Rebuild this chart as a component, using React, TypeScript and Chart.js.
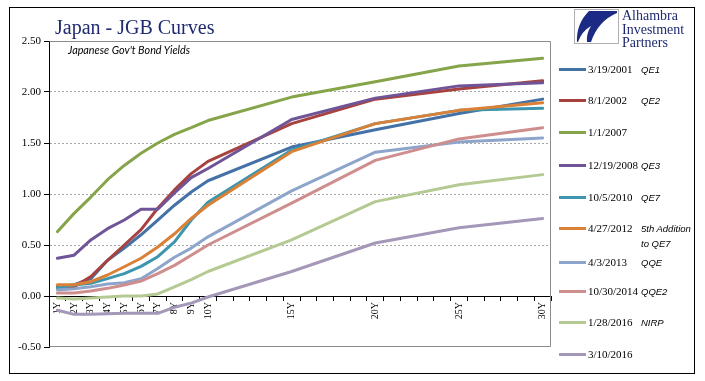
import React, { useEffect, useRef } from 'react';
import { Chart, registerables } from 'chart.js';

Chart.register(...registerables);

// ---- Data ----
const tenors = [1, 2, 3, 4, 5, 6, 7, 8, 9, 10, 15, 20, 25, 30];
const tenorLabels = ['1Y', '2Y', '3Y', '4Y', '5Y', '6Y', '7Y', '8Y', '9Y', '10Y', '15Y', '20Y', '25Y', '30Y'];
const slotCount = 30;

const seriesNames = ['3/19/2001', '8/1/2002', '1/1/2007', '12/19/2008', '10/5/2010', '4/27/2012', '4/3/2013', '10/30/2014', '1/28/2016', '3/10/2016'];
const seriesNotes = ['QE1', 'QE2', '', 'QE3', 'QE7', '5th Addition\nto QE7', 'QQE', 'QQE2', 'NIRP', ''];

const y2001 = [0.09, 0.11, 0.17, 0.35, 0.47, 0.6, 0.745, 0.89, 1.02, 1.13, 1.46, 1.63, 1.79, 1.93];
const y2002 = [0.085, 0.09, 0.19, 0.35, 0.5, 0.65, 0.86, 1.04, 1.2, 1.32, 1.69, 1.93, 2.03, 2.11];
const y2007 = [0.63, 0.81, 0.97, 1.14, 1.28, 1.4, 1.5, 1.585, 1.65, 1.72, 1.95, 2.1, 2.255, 2.33];
const y2008 = [0.37, 0.4, 0.55, 0.66, 0.745, 0.85, 0.85, 1.01, 1.16, 1.25, 1.73, 1.94, 2.06, 2.09];
const y2010 = [0.08, 0.108, 0.124, 0.17, 0.22, 0.29, 0.385, 0.53, 0.745, 0.92, 1.43, 1.69, 1.82, 1.84];
const y2012 = [0.11, 0.11, 0.14, 0.206, 0.287, 0.37, 0.48, 0.61, 0.76, 0.89, 1.415, 1.69, 1.82, 1.895];
const y2013 = [0.06, 0.07, 0.09, 0.118, 0.13, 0.17, 0.27, 0.38, 0.47, 0.58, 1.03, 1.41, 1.51, 1.55];
const y2014 = [0.03, 0.03, 0.05, 0.075, 0.108, 0.147, 0.22, 0.3, 0.4, 0.5, 0.91, 1.33, 1.54, 1.65];
const y2016jan = [-0.02, -0.03, -0.02, -0.01, 0.0, 0.0, 0.02, 0.09, 0.16, 0.24, 0.55, 0.925, 1.09, 1.19];
const y2016mar = [-0.14, -0.18, -0.18, -0.175, -0.17, -0.17, -0.17, -0.11, -0.07, -0.01, 0.24, 0.52, 0.67, 0.76];

const seriesValues = [y2001, y2002, y2007, y2008, y2010, y2012, y2013, y2014, y2016jan, y2016mar];

const yTicks = [-0.5, 0, 0.5, 1, 1.5, 2, 2.5];

// ---- Styles ----
const seriesColors = ['#4471A6', '#A8423F', '#86A44A', '#6F5597', '#3D96AE', '#DA8137', '#8EA5CB', '#CE8E8D', '#B5CA92', '#A597B7'];
const legendCenters = [69, 100, 132, 165, 197, 228, 262, 291, 322, 354];

const axisLabels = Array.from({ length: slotCount }, (_, i) => {
  const k = tenors.indexOf(i + 1);
  return k >= 0 ? tenorLabels[k] : '';
});
const toSlots = (vals: number[]) =>
  Array.from({ length: slotCount }, (_, i) => {
    const k = tenors.indexOf(i + 1);
    return k >= 0 ? vals[k] : null;
  });

const plotFrame = {
  id: 'plotFrame',
  beforeDatasetsDraw(chart: any) {
    const { ctx, chartArea: a } = chart;
    ctx.save();
    ctx.strokeStyle = '#8c8c8c';
    ctx.lineWidth = 1;
    ctx.beginPath();
    const l = Math.round(a.left) + 0.5;
    const r = Math.round(a.right) - 0.5;
    const t = Math.round(a.top) + 0.5;
    const b = Math.round(a.bottom) - 0.5;
    ctx.moveTo(l, t);
    ctx.lineTo(r, t);
    ctx.lineTo(r, b);
    ctx.lineTo(l, b);
    ctx.stroke();
    ctx.restore();
  },
};

export default function App() {
  const ref = useRef<HTMLCanvasElement>(null);

  useEffect(() => {
    document.body.style.margin = '0';
    const chart = new Chart(ref.current as HTMLCanvasElement, {
      type: 'line',
      data: {
        labels: axisLabels,
        datasets: seriesValues.map((vals, i) => ({
          label: seriesNames[i],
          data: toSlots(vals),
          borderColor: seriesColors[i],
          backgroundColor: seriesColors[i],
          borderWidth: 3,
          pointRadius: 0,
          pointHoverRadius: 0,
          tension: 0,
          spanGaps: true,
          fill: false,
          borderJoinStyle: 'round',
          borderCapStyle: 'round',
          order: seriesValues.length - i,
        })),
      },
      options: {
        responsive: false,
        animation: false,
        devicePixelRatio: 1,
        layout: { padding: { left: 9, top: 41, right: 154, bottom: 34 } },
        plugins: {
          legend: { display: false },
          tooltip: { enabled: false },
          title: { display: false },
        },
        scales: {
          x: {
            type: 'category',
            position: { y: 0 },
            offset: true,
            grid: {
              offset: true,
              drawOnChartArea: false,
              drawTicks: true,
              tickLength: 4,
              tickColor: '#000',
              color: '#000',
            },
            border: { display: true, color: '#000', width: 1 },
            ticks: {
              autoSkip: false,
              minRotation: 90,
              maxRotation: 90,
              padding: 2,
              color: '#000',
              font: { family: 'Liberation Serif', size: 10 },
            },
          },
          y: {
            type: 'linear',
            min: -0.5,
            max: 2.5,
            afterFit: (s: any) => {
              s.width = 40;
            },
            afterBuildTicks: (s: any) => {
              s.ticks = yTicks.map((v) => ({ value: v }));
            },
            grid: {
              color: (c: any) => {
                const v = c.tick ? c.tick.value : 0;
                return v > 0.01 && v < 2.49 ? '#a6a6a6' : 'rgba(0,0,0,0)';
              },
              tickColor: '#000',
              tickLength: 5,
              lineWidth: 1,
            },
            border: { display: true, color: '#000', width: 1, dash: [2, 2] },
            ticks: {
              padding: 3,
              color: '#000',
              font: { family: 'Liberation Serif', size: 11 },
              callback: (v: any) => Number(v).toFixed(2),
            },
          },
        },
      } as any,
      plugins: [plotFrame],
    });
    return () => chart.destroy();
  }, []);

  return (
    <div style={{ position: 'relative', width: 705, height: 381, background: '#fff', overflow: 'hidden' }}>
      <canvas ref={ref} width={705} height={381} style={{ position: 'absolute', left: 0, top: 0, display: 'block' }} />
      <div
        style={{
          position: 'absolute',
          left: 9,
          top: 7,
          width: 686,
          height: 367,
          border: '1px solid #000',
          boxSizing: 'border-box',
          pointerEvents: 'none',
        }}
      />
      <div
        style={{
          position: 'absolute',
          left: 55,
          top: 17,
          fontFamily: 'Liberation Serif, serif',
          fontSize: 20,
          lineHeight: '20px',
          color: '#1f2a70',
          whiteSpace: 'nowrap',
        }}
      >
        Japan - JGB Curves
      </div>
      <div
        style={{
          position: 'absolute',
          left: 68,
          top: 44,
          fontFamily: 'Lato, sans-serif',
          fontStyle: 'italic',
          fontSize: 10.8,
          lineHeight: '12px',
          color: '#000',
          whiteSpace: 'nowrap',
        }}
      >
        Japanese Gov't Bond Yields
      </div>
      {/* Logo */}
      <svg style={{ position: 'absolute', left: 574, top: 9 }} width={45} height={35} viewBox="0 0 45 35">
        <rect x={0.5} y={0.5} width={44} height={34} fill="#fff" stroke="#b0b0b0" />
        <path d="M15 2 L43 2 L43 4 Q24 12 17 33 L3 33 Q2 15 15 2 Z" fill="#1b2a84" />
        <path d="M4 33 Q8 22 17 17 Q12 25 13 33 Z" fill="#fff" />
      </svg>
      <div
        style={{
          position: 'absolute',
          left: 622,
          top: 9,
          fontFamily: 'Liberation Serif, serif',
          fontSize: 14,
          lineHeight: '13.5px',
          color: '#1f2a70',
          whiteSpace: 'pre',
        }}
      >
        {'Alhambra\nInvestment\nPartners'}
      </div>
      {/* Legend */}
      {seriesNames.map((name, i) => (
        <div
          key={name}
          style={{
            position: 'absolute',
            left: 559,
            top: legendCenters[i] - 7,
            height: 14,
            display: 'flex',
            alignItems: 'center',
            whiteSpace: 'nowrap',
          }}
        >
          <div style={{ width: 27, height: 3, background: seriesColors[i] }} />
          <div style={{ width: 2 }} />
          <span
            style={{
              fontFamily: 'Liberation Serif, serif',
              fontSize: 11,
              lineHeight: '14px',
              color: '#000',
            }}
          >
            {name}
          </span>
          {seriesNotes[i] ? (
            <div
              style={{
                position: 'absolute',
                left: 82,
                top: -0.5,
                fontFamily: 'Liberation Sans, sans-serif',
                fontStyle: 'italic',
                fontSize: 9.5,
                lineHeight: '15px',
                color: '#000',
                whiteSpace: 'pre',
              }}
            >
              {seriesNotes[i]}
            </div>
          ) : null}
        </div>
      ))}
    </div>
  );
}
